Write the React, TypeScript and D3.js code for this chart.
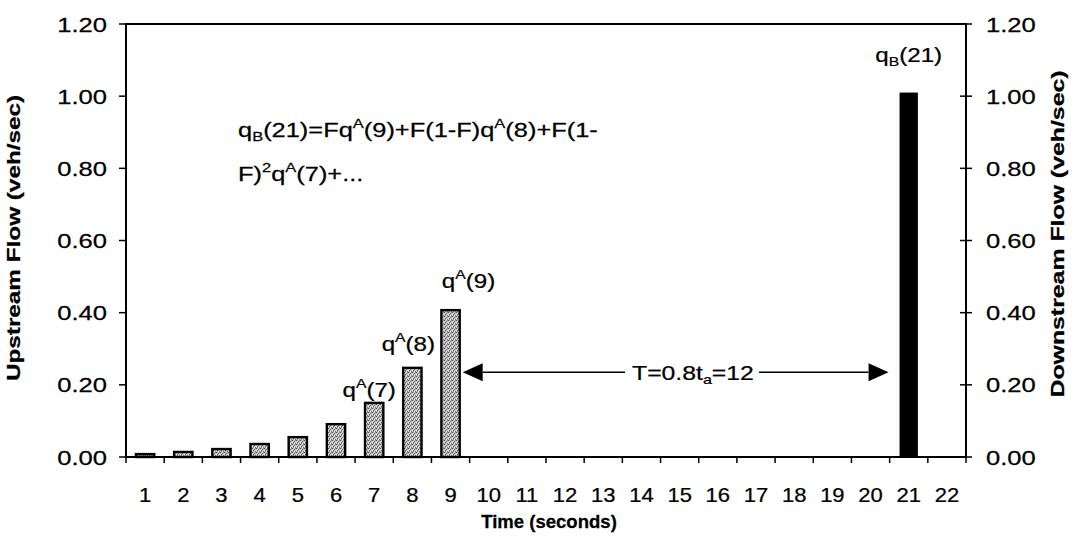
import React from 'react'
import * as d3 from 'd3'

// time slots on the x axis (seconds)
const timeLabels = ['1', '2', '3', '4', '5', '6', '7', '8', '9', '10', '11', '12', '13', '14', '15', '16', '17', '18', '19', '20', '21', '22']

// upstream arrivals q^A(t)
const upstreamTimes = ['1', '2', '3', '4', '5', '6', '7', '8', '9']
const upstreamValues = [0.008, 0.014, 0.022, 0.036, 0.055, 0.091, 0.15, 0.247, 0.407]

// downstream flow q_B(21)
const downstreamTimes = ['21']
const downstreamValues = [1.01]

const yTicks = [0, 0.2, 0.4, 0.6, 0.8, 1.0, 1.2]

const W = 1073
const H = 556
const margin = { top: 24, right: 107, bottom: 99, left: 126 }
const FONT = 'Arial, "Liberation Sans", Helvetica, sans-serif'

type Part = [string, 'n' | 'sup' | 'sub']

// rich text with super/subscripts, dy kept relative to the baseline
const rich = (parts: Part[], size: number) => {
  let cur = 0
  return parts.map(([s, k], i) => {
    const target = k === 'sup' ? -size * 0.42 : k === 'sub' ? size * 0.2 : 0
    const dy = target - cur
    cur = target
    return (
      <tspan key={i} dy={dy} fontSize={k === 'n' ? size : size * 0.65}>{s}</tspan>
    )
  })
}

// stretched text, the scanned figure has wide glyphs
const T: React.FC<{
  x: number
  y: number
  rot?: number
  sx?: number
  size: number
  bold?: boolean
  anchor?: 'start' | 'middle' | 'end'
  children: React.ReactNode
}> = ({ x, y, rot = 0, sx = 1.15, size, bold, anchor = 'middle', children }) => (
  <g transform={`translate(${x},${y}) rotate(${rot}) scale(${sx},1)`}>
    <text
      x={0}
      y={0}
      fontFamily={FONT}
      fontSize={size}
      fontWeight={bold ? 'bold' : 'normal'}
      textAnchor={anchor}
      fill="#000"
      stroke="#000"
      strokeWidth={0.25}
    >
      {children}
    </text>
  </g>
)

export default function App() {
  const x0 = margin.left
  const x1 = W - margin.right
  const yTop = margin.top
  const yBot = H - margin.bottom

  const x = d3.scaleBand<string>()
    .domain(timeLabels)
    .range([x0, x1])
    .paddingInner(0.52)
    .paddingOuter(0.26)

  const y = d3.scaleLinear().domain([0, 1.2]).range([yBot, yTop])

  const step = x.step()
  const boundaries = d3.range(timeLabels.length + 1).map(i => x0 + i * step)
  const cx = (t: string) => (x(t) as number) + x.bandwidth() / 2

  const up = upstreamTimes.map((t, i) => ({ t, v: upstreamValues[i] }))
  const down = downstreamTimes.map((t, i) => ({ t, v: downstreamValues[i] }))

  // arrow between q^A(9) and q_B(21)
  const arrowY = y(0.235)
  const aL = (x('9') as number) + x.bandwidth() + 3
  const aR = (x('21') as number) - 11
  const head = 20
  const hh = 9

  const fs = 21

  return (
    <svg width={W} height={H} style={{ position: 'absolute', left: 0, top: 0, background: '#fff' }}>
      <defs>
        <pattern id="dots" width="4" height="4" patternUnits="userSpaceOnUse">
          <rect width="4" height="4" fill="#c6c6c6" />
          <rect x="0" y="0" width="1" height="1" fill="#4a4a4a" />
          <rect x="2" y="1" width="1" height="1" fill="#6a6a6a" />
          <rect x="1" y="2" width="1" height="1" fill="#5a5a5a" />
          <rect x="3" y="3" width="1" height="1" fill="#777" />
          <rect x="3" y="0" width="1" height="1" fill="#8a8a8a" />
          <rect x="1" y="3" width="1" height="1" fill="#8a8a8a" />
          <rect x="2" y="3" width="1" height="1" fill="#eee" />
          <rect x="0" y="2" width="1" height="1" fill="#eee" />
        </pattern>
      </defs>
      <rect width={W} height={H} fill="#fff" />

      {/* bars */}
      {up.map(d => (
        <rect
          key={'u' + d.t}
          x={x(d.t)}
          y={y(d.v)}
          width={x.bandwidth()}
          height={yBot - y(d.v)}
          fill="url(#dots)"
          stroke="#000"
          strokeWidth={2.4}
        />
      ))}
      {down.map(d => (
        <rect
          key={'d' + d.t}
          x={x(d.t)}
          y={y(d.v)}
          width={x.bandwidth()}
          height={yBot - y(d.v)}
          fill="#000"
        />
      ))}

      {/* frame */}
      <rect x={x0} y={yTop} width={x1 - x0} height={yBot - yTop} fill="none" stroke="#000" strokeWidth={2} />

      {/* x ticks and labels */}
      {boundaries.map((bx, i) => (
        <line key={'xt' + i} x1={bx} x2={bx} y1={yBot} y2={yBot + 6} stroke="#000" strokeWidth={1.5} />
      ))}
      {timeLabels.map(t => (
        <T key={'xl' + t} x={cx(t)} y={502} size={20} sx={1.1}>{t}</T>
      ))}

      {/* y ticks left & right */}
      {yTicks.map(v => (
        <g key={'yt' + v}>
          <line x1={x0 - 7} x2={x0} y1={y(v)} y2={y(v)} stroke="#000" strokeWidth={1.5} />
          <line x1={x1 - 6} x2={x1 + 6} y1={y(v)} y2={y(v)} stroke="#000" strokeWidth={1.5} />
          <T x={107} y={y(v) + 7.5} size={20} sx={1.28} anchor="end">{v.toFixed(2)}</T>
          <T x={986} y={y(v) + 7.5} size={20} sx={1.28} anchor="start">{v.toFixed(2)}</T>
        </g>
      ))}

      {/* axis titles */}
      <T x={20} y={238} rot={-90} size={18} bold sx={1.35}>Upstream Flow (veh/sec)</T>
      <T x={1064} y={234} rot={-90} size={18} bold sx={1.38}>Downstream Flow (veh/sec)</T>
      <T x={549} y={528} size={18} bold sx={1.03}>Time (seconds)</T>

      {/* annotations */}
      <T x={cx('21')} y={62} size={fs}>
        {rich([['q', 'n'], ['B', 'sub'], ['(21)', 'n']], fs)}
      </T>
      <T x={cx('9') + 18} y={288} size={fs}>
        {rich([['q', 'n'], ['A', 'sup'], ['(9)', 'n']], fs)}
      </T>
      <T x={cx('8') - 4} y={351} size={fs}>
        {rich([['q', 'n'], ['A', 'sup'], ['(8)', 'n']], fs)}
      </T>
      <T x={cx('7') - 5} y={397} size={fs}>
        {rich([['q', 'n'], ['A', 'sup'], ['(7)', 'n']], fs)}
      </T>

      <T x={238} y={137} size={fs} sx={1.21} anchor="start">
        {rich([
          ['q', 'n'], ['B', 'sub'], ['(21)=Fq', 'n'], ['A', 'sup'], ['(9)+F(1-F)q', 'n'],
          ['A', 'sup'], ['(8)+F(1-', 'n'],
        ], fs)}
      </T>
      <T x={238} y={181} size={fs} sx={1.21} anchor="start">
        {rich([['F)', 'n'], ['2', 'sup'], ['q', 'n'], ['A', 'sup'], ['(7)+...', 'n']], fs)}
      </T>

      {/* T = 0.8 t_a arrow */}
      <line x1={aL + head} x2={625} y1={arrowY} y2={arrowY} stroke="#000" strokeWidth={1.5} />
      <line x1={759} x2={aR - head} y1={arrowY} y2={arrowY} stroke="#000" strokeWidth={1.5} />
      <path d={`M${aL},${arrowY} L${aL + head},${arrowY - hh} L${aL + head},${arrowY + hh} Z`} fill="#000" />
      <path d={`M${aR},${arrowY} L${aR - head},${arrowY - hh} L${aR - head},${arrowY + hh} Z`} fill="#000" />
      <T x={632} y={arrowY + 8} size={fs} sx={1.18} anchor="start">
        {rich([['T=0.8t', 'n'], ['a', 'sub'], ['=12', 'n']], fs)}
      </T>
    </svg>
  )
}
